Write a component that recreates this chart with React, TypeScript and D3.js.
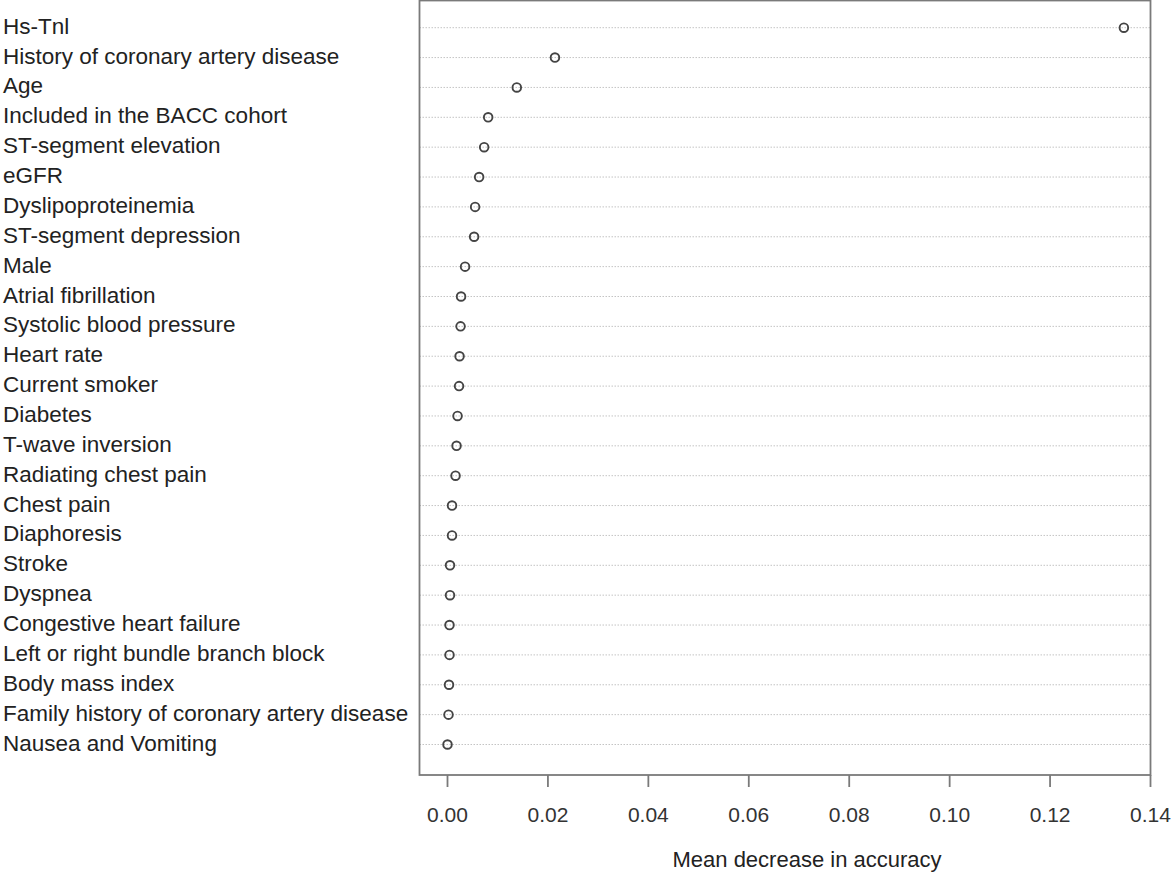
import React, { useEffect, useRef } from 'react';
import * as d3 from 'd3';

const features = [
  'Hs-Tnl',
  'History of coronary artery disease',
  'Age',
  'Included in the BACC cohort',
  'ST-segment elevation',
  'eGFR',
  'Dyslipoproteinemia',
  'ST-segment depression',
  'Male',
  'Atrial fibrillation',
  'Systolic blood pressure',
  'Heart rate',
  'Current smoker',
  'Diabetes',
  'T-wave inversion',
  'Radiating chest pain',
  'Chest pain',
  'Diaphoresis',
  'Stroke',
  'Dyspnea',
  'Congestive heart failure',
  'Left or right bundle branch block',
  'Body mass index',
  'Family history of coronary artery disease',
  'Nausea and Vomiting',
];

const accuracyDecrease = [
  0.1347, 0.0214, 0.0138, 0.0081, 0.0073, 0.0063, 0.0055, 0.0053, 0.0035,
  0.0027, 0.0026, 0.0024, 0.0023, 0.0020, 0.0018, 0.0016, 0.0009, 0.0009,
  0.0005, 0.0005, 0.0004, 0.0004, 0.0003, 0.0002, 0.0,
];

const xTicks = [0, 0.02, 0.04, 0.06, 0.08, 0.1, 0.12, 0.14];

export default function App() {
  const ref = useRef<SVGSVGElement>(null);
  const width = 1173;
  const height = 876;
  const box = { left: 419.5, right: 1150.5, top: 0.5, bottom: 775 };

  useEffect(() => {
    const svg = d3.select(ref.current);
    svg.selectAll('*').remove();

    const x = d3.scaleLinear().domain([0, 0.14]).range([447.5, 1150.5]);
    const y = d3.scalePoint<string>()
      .domain(features)
      .range([27.7, 744.5]);

    // dotted guide lines
    svg.append('g')
      .selectAll('line')
      .data(features)
      .enter().append('line')
      .attr('x1', box.left)
      .attr('x2', box.right)
      .attr('y1', d => y(d)!)
      .attr('y2', d => y(d)!)
      .attr('stroke', '#c4c4c4')
      .attr('stroke-width', 1)
      .attr('stroke-dasharray', '1.5,1.5');

    // frame
    svg.append('rect')
      .attr('x', box.left)
      .attr('y', box.top)
      .attr('width', box.right - box.left)
      .attr('height', box.bottom - box.top)
      .attr('fill', 'none')
      .attr('stroke', '#7a7a7a')
      .attr('stroke-width', 1.8);

    // labels
    svg.append('g')
      .selectAll('text')
      .data(features)
      .enter().append('text')
      .attr('x', 3)
      .attr('y', d => y(d)! + 6)
      .attr('font-family', 'Liberation Sans, Arial, sans-serif')
      .attr('font-size', 22.5)
      .attr('fill', '#222')
      .text(d => d);

    // points
    svg.append('g')
      .selectAll('circle')
      .data(accuracyDecrease)
      .enter().append('circle')
      .attr('cx', d => x(d))
      .attr('cy', (d, i) => y(features[i])!)
      .attr('r', 4.3)
      .attr('fill', 'none')
      .attr('stroke', '#444')
      .attr('stroke-width', 1.9);

    // x axis
    const axis = svg.append('g');
    axis.selectAll('line')
      .data(xTicks)
      .enter().append('line')
      .attr('x1', d => x(d))
      .attr('x2', d => x(d))
      .attr('y1', box.bottom)
      .attr('y2', box.bottom + 12)
      .attr('stroke', '#7a7a7a')
      .attr('stroke-width', 1.8);
    axis.selectAll('text')
      .data(xTicks)
      .enter().append('text')
      .attr('x', d => x(d))
      .attr('y', 821.5)
      .attr('text-anchor', 'middle')
      .attr('font-family', 'Liberation Sans, Arial, sans-serif')
      .attr('font-size', 21)
      .attr('fill', '#333')
      .text(d => d3.format('.2f')(d));

    svg.append('text')
      .attr('x', 807)
      .attr('y', 867)
      .attr('text-anchor', 'middle')
      .attr('font-family', 'Liberation Sans, Arial, sans-serif')
      .attr('font-size', 22)
      .attr('fill', '#222')
      .text('Mean decrease in accuracy');
  }, []);

  return (
    <svg
      ref={ref}
      width={width}
      height={height}
      style={{ position: 'absolute', left: 0, top: 0, background: '#fff' }}
    />
  );
}
